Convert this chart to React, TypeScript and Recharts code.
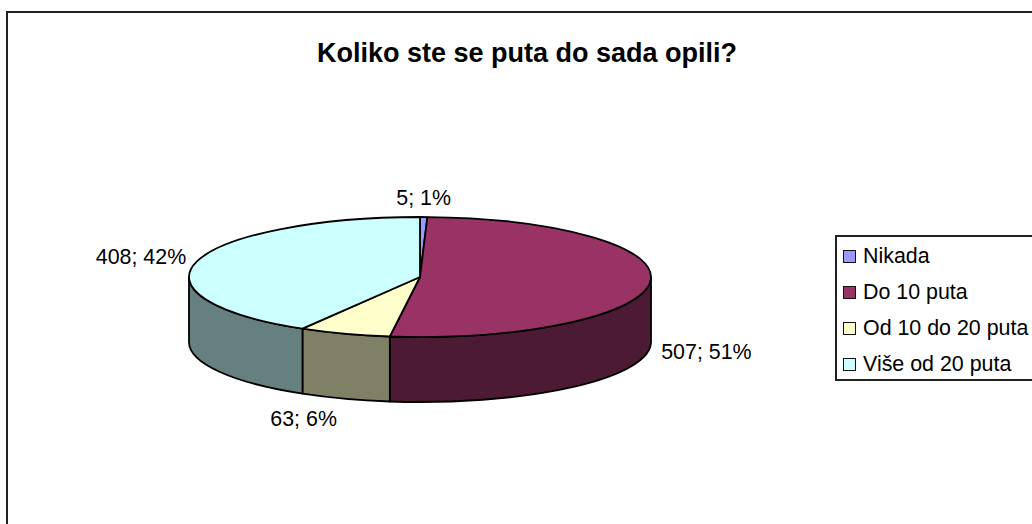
import { PieChart, Pie, Legend } from 'recharts';

const CATEGORIES = ['Nikada', 'Do 10 puta', 'Od 10 do 20 puta', 'Više od 20 puta'];
const VALUES = [5, 507, 63, 408];
const PERCENT_LABELS = ['1%', '51%', '6%', '42%'];
const TOP_COLORS = ['#9999ff', '#993366', '#ffffcc', '#ccffff'];
const WALL_COLORS = ['#4d4d80', '#4d1a33', '#808066', '#668080'];

const tableData = CATEGORIES.map((name, i) => ({
  name,
  value: VALUES[i],
  fill: TOP_COLORS[i],
  wall: WALL_COLORS[i],
  percentLabel: PERCENT_LABELS[i],
}));

const SQUASH = 60 / 231; // ellipse ry / rx
const DEPTH = 65;
const LINE = '#000';
const FONT = '"Liberation Sans", Arial, sans-serif';
const TEXT_SIZE = 21.4;

// label anchors relative to the rim point at the slice's middle angle
const LABEL_NUDGE = [
  { dx: 0, dy: -19, anchor: 'middle' },
  { dx: 11, dy: 70, anchor: 'start' },
  { dx: -41, dy: 85, anchor: 'middle' },
  { dx: -11, dy: -4, anchor: 'end' },
];

const rimPoint = (cx: number, cy: number, r: number, deg: number, drop = 0) => {
  const rad = (deg * Math.PI) / 180;
  return { x: cx + r * Math.cos(rad), y: cy - r * SQUASH * Math.sin(rad) + drop };
};

// Slice of the squashed disc: the front wall (only the part facing down) and the top face
function DiscSlice(props: any) {
  const { cx, cy, outerRadius: r, startAngle, endAngle, fill, wall } = props;
  const ry = r * SQUASH;
  const a = rimPoint(cx, cy, r, startAngle);
  const b = rimPoint(cx, cy, r, endAngle);
  const large = Math.abs(endAngle - startAngle) > 180 ? 1 : 0;
  const top = `M${cx},${cy} L${a.x},${a.y} A${r},${ry} 0 ${large} 1 ${b.x},${b.y} Z`;

  // front half of the rim runs from 0deg down to -180deg
  const wallStart = Math.min(startAngle, 0);
  const wallEnd = Math.max(endAngle, -180);
  let wallPath = '';
  if (wallStart > wallEnd) {
    const p = rimPoint(cx, cy, r, wallStart);
    const q = rimPoint(cx, cy, r, wallEnd);
    wallPath =
      `M${p.x},${p.y} A${r},${ry} 0 0 1 ${q.x},${q.y} L${q.x},${q.y + DEPTH} ` +
      `A${r},${ry} 0 0 0 ${p.x},${p.y + DEPTH} Z`;
  }

  return (
    <g>
      {wallPath && <path d={wallPath} fill={wall} stroke={LINE} strokeWidth={1.8} strokeLinejoin="round" />}
      <path d={top} fill={fill} stroke={LINE} strokeWidth={1.8} strokeLinejoin="round" />
    </g>
  );
}

function SliceLabel(props: any) {
  const { cx, cy, outerRadius, midAngle, index, value, percentLabel, payload } = props;
  const rim = rimPoint(cx, cy, outerRadius, midAngle);
  const nudge = LABEL_NUDGE[index];
  return (
    <text
      x={rim.x + nudge.dx}
      y={rim.y + nudge.dy}
      textAnchor={nudge.anchor}
      dominantBaseline="central"
      fontFamily={FONT}
      fontSize={TEXT_SIZE}
      fill="#000"
    >
      {`${value}; ${percentLabel ?? payload?.percentLabel}`}
    </text>
  );
}

function LegendBox({ payload }: any) {
  return (
    <div
      style={{
        border: '2px solid #222',
        boxSizing: 'border-box',
        width: 220,
        height: 146,
        paddingTop: 1,
        fontFamily: FONT,
        fontSize: TEXT_SIZE,
        color: '#000',
      }}
    >
      {(payload ?? []).map((entry: any) => (
        <div key={entry.value} style={{ display: 'flex', alignItems: 'center', height: 36, paddingLeft: 6, whiteSpace: 'nowrap' }}>
          <span
            style={{
              display: 'inline-block',
              width: 13,
              height: 13,
              boxSizing: 'border-box',
              border: '1.5px solid #111',
              background: entry.color,
              marginRight: 7,
            }}
          />
          {entry.value}
        </div>
      ))}
    </div>
  );
}

export default function App() {
  return (
    <div style={{ position: 'absolute', left: 0, top: 0, width: 1032, height: 524, overflow: 'hidden', background: '#fff' }}>
      <div style={{ position: 'absolute', left: 6, top: 11, width: 1100, height: 600, border: '2px solid #222' }} />
      <PieChart
        width={1032}
        height={524}
        margin={{ top: 0, right: 0, bottom: 0, left: 0 }}
        style={{ position: 'absolute', left: 0, top: 0 }}
      >
        <text x={527} y={53} textAnchor="middle" dominantBaseline="central" fontFamily={FONT} fontWeight="bold" fontSize={27}>
          Koliko ste se puta do sada opili?
        </text>
        <Pie
          data={tableData}
          dataKey="value"
          nameKey="name"
          cx={420}
          cy={277}
          outerRadius={231}
          startAngle={90}
          endAngle={-270}
          isAnimationActive={false}
          shape={DiscSlice}
          label={SliceLabel}
          labelLine={false}
          rootTabIndex={-1}
        />
        <Legend
          content={<LegendBox />}
          itemSorter={null}
          wrapperStyle={{ position: 'absolute', left: 835, top: 235, width: 220, height: 146, bottom: 'auto', right: 'auto' }}
        />
      </PieChart>
    </div>
  );
}
